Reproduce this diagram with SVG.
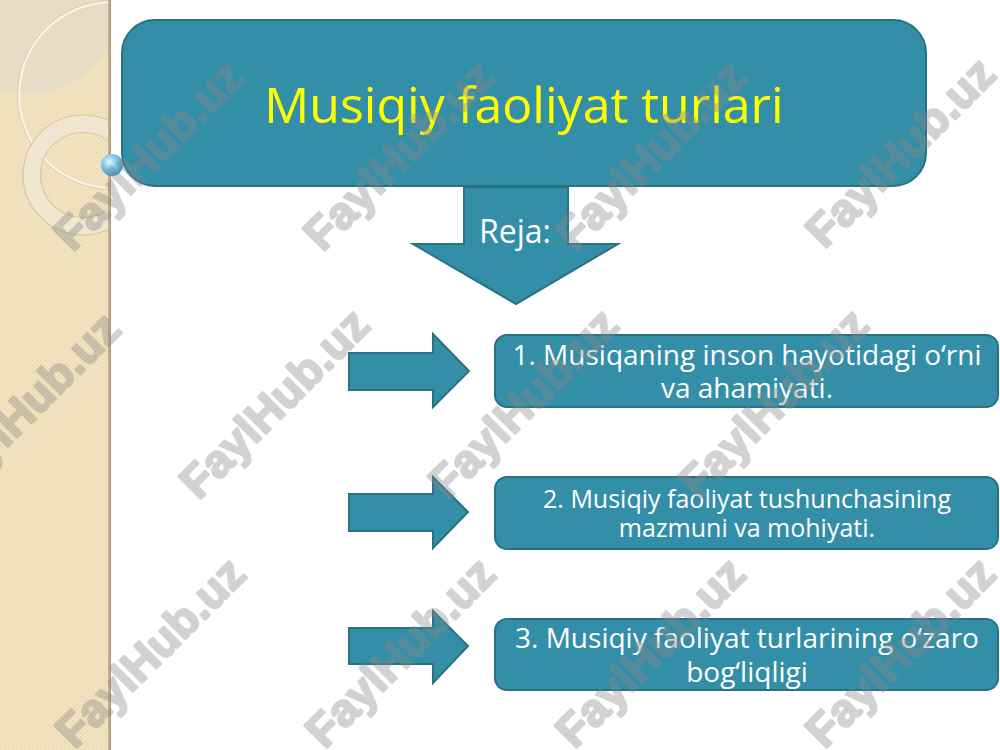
<svg xmlns="http://www.w3.org/2000/svg" width="1000" height="750" viewBox="0 0 1000 750">
  <style>
    .shape { fill: #338EA7; stroke: #2A7184; stroke-width: 2; }
    .item { font-family: "Open Sans", "Noto Sans", "DejaVu Sans", sans-serif; fill: #FFFFFF; text-anchor: middle; }
    .wm { font-family: "Liberation Sans", Arial, sans-serif; font-weight: bold; font-size: 46px; fill: #8A8A8A; stroke: #8A8A8A; stroke-width: 2.2; stroke-linejoin: round; opacity: 0.38; text-anchor: middle; }
  </style>
  <defs>
    <pattern id="dots" width="4" height="4" patternUnits="userSpaceOnUse">
      <rect width="4" height="4" fill="#F3E4C1"/>
      <circle cx="1" cy="1" r="0.8" fill="#E6D3A9"/>
      <circle cx="3" cy="3" r="0.8" fill="#E9D8B2"/>
    </pattern>
    <clipPath id="strip"><rect x="0" y="0" width="110" height="750"/></clipPath>
    <radialGradient id="ball" cx="0.38" cy="0.35" r="0.7">
      <stop offset="0" stop-color="#E6F7FF"/>
      <stop offset="0.45" stop-color="#7FCBEA"/>
      <stop offset="1" stop-color="#2F93C0"/>
    </radialGradient>
    <linearGradient id="edge" x1="0" y1="0" x2="1" y2="0">
      <stop offset="0" stop-color="#C9B78F"/>
      <stop offset="1" stop-color="#A89A80"/>
    </linearGradient>
  </defs>

  <!-- background -->
  <rect x="0" y="0" width="1000" height="750" fill="#FFFFFF"/>
  <g id="left-strip">
    <rect x="0" y="0" width="110" height="750" fill="url(#dots)"/>
    <g clip-path="url(#strip)">
      <circle cx="30" cy="8" r="86" fill="#E2DACB" fill-opacity="0.7"/>
      <circle cx="112" cy="95" r="93" fill="none" stroke="#FBF4E4" stroke-width="2.5"/>
      <circle cx="112" cy="95" r="94.5" fill="none" stroke="#D8C79F" stroke-width="0.8"/>
      <circle cx="83" cy="175" r="51" fill="none" stroke="#EEE6D3" stroke-opacity="0.85" stroke-width="17"/>
      <circle cx="83" cy="175" r="60" fill="none" stroke="#D9C79C" stroke-width="1.2"/>
      <circle cx="83" cy="175" r="42.5" fill="none" stroke="#D9C79C" stroke-width="1.2"/>
    </g>
    <rect x="108" y="0" width="3" height="750" fill="url(#edge)"/>
  </g>

  <!-- title -->
  <g id="title">
    <rect class="shape" x="122" y="20" width="804" height="166" rx="33" ry="33"/>
    <text x="524" y="123" font-family="'Open Sans', 'Noto Sans', 'DejaVu Sans', sans-serif" font-size="50" fill="#FFFF00" text-anchor="middle">Musiqiy faoliyat turlari</text>
  </g>

  <g id="ball-decor">
    <circle cx="112" cy="165" r="11" fill="url(#ball)"/>
  </g>

  <!-- connectors -->
  <g id="connectors">
    <g id="reja-arrow">
      <polygon class="shape" points="464,187 568,187 568,244 618,244 516,304 413,244 464,244"/>
      <text class="item" x="515" y="243" font-size="32">Reja:</text>
    </g>
    <polygon id="arrow1" class="shape" points="349,353 433,353 433,334 469,371 433,407 433,390 349,390"/>
    <polygon id="arrow2" class="shape" points="349,494 433,494 433,477 468,512 433,548 433,531 349,531"/>
    <polygon id="arrow3" class="shape" points="349,628 433,628 433,611 468,646 433,683 433,664 349,664"/>
  </g>

  <!-- items -->
  <g id="item1">
    <rect class="shape" x="495" y="335" width="503" height="72" rx="12" ry="12"/>
    <text class="item" x="747" y="365" font-size="28">1. Musiqaning inson hayotidagi o‘rni</text>
    <text class="item" x="747" y="398" font-size="28">va ahamiyati.</text>
  </g>
  <g id="item2">
    <rect class="shape" x="495" y="477" width="503" height="72" rx="12" ry="12"/>
    <text class="item" x="747" y="508" font-size="25">2. Musiqiy faoliyat tushunchasining</text>
    <text class="item" x="747" y="537" font-size="25">mazmuni va mohiyati.</text>
  </g>
  <g id="item3">
    <rect class="shape" x="495" y="619" width="503" height="71" rx="12" ry="12"/>
    <text class="item" x="747" y="648" font-size="28">3. Musiqiy faoliyat turlarining o‘zaro</text>
    <text class="item" x="747" y="682" font-size="28">bog‘liqligi</text>
  </g>

  <!-- watermarks -->
  <g id="watermarks">
    <text class="wm" transform="translate(148,155) rotate(-45)" y="16">FaylHub.uz</text>
    <text class="wm" transform="translate(398,155) rotate(-45)" y="16">FaylHub.uz</text>
    <text class="wm" transform="translate(650,155) rotate(-45)" y="16">FaylHub.uz</text>
    <text class="wm" transform="translate(900,152) rotate(-45)" y="16">FaylHub.uz</text>
    <text class="wm" transform="translate(25,407) rotate(-45)" y="16">FaylHub.uz</text>
    <text class="wm" transform="translate(274,403) rotate(-45)" y="16">FaylHub.uz</text>
    <text class="wm" transform="translate(523,403) rotate(-45)" y="16">FaylHub.uz</text>
    <text class="wm" transform="translate(773,403) rotate(-45)" y="16">FaylHub.uz</text>
    <text class="wm" transform="translate(150,652) rotate(-45)" y="16">FaylHub.uz</text>
    <text class="wm" transform="translate(400,652) rotate(-45)" y="16">FaylHub.uz</text>
    <text class="wm" transform="translate(650,652) rotate(-45)" y="16">FaylHub.uz</text>
    <text class="wm" transform="translate(900,652) rotate(-45)" y="16">FaylHub.uz</text>
  </g>
</svg>
